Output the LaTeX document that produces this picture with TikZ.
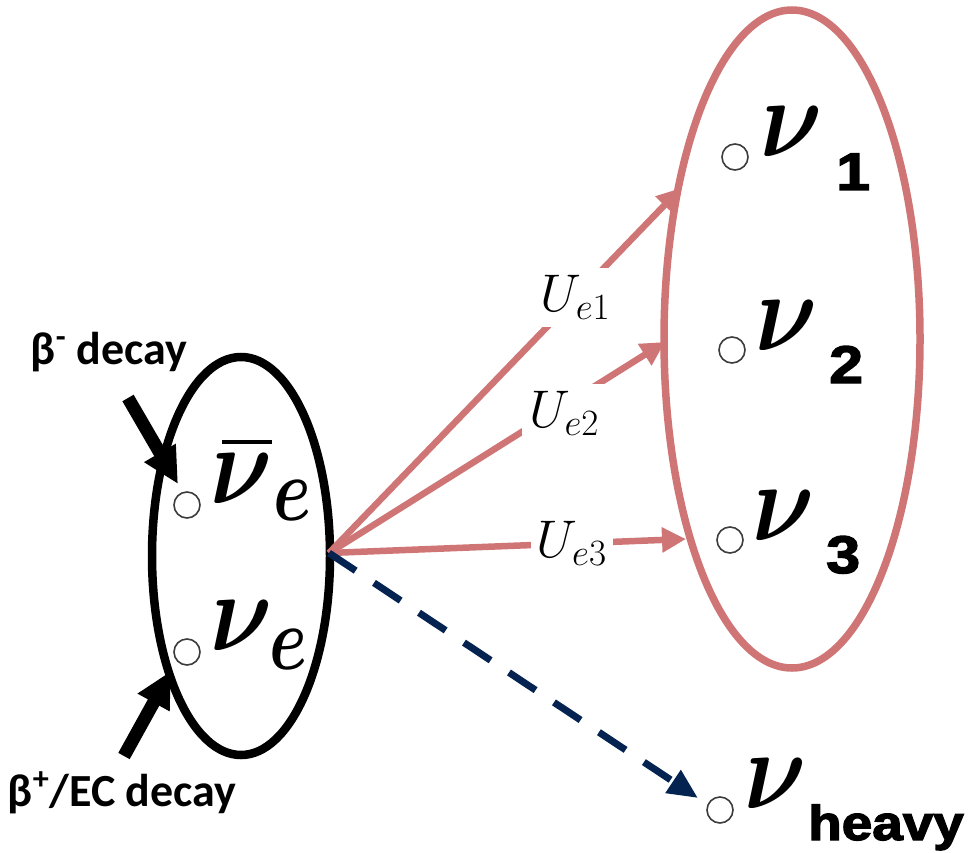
\RequirePackage{fix-cm}
\documentclass[tikz,border=0pt]{standalone}
\usepackage{fontspec}
\usepackage{graphicx}
\usepackage{bm}
\newfontfamily\calib{Carlito}
\newfontfamily\arialblack[FakeBold=2.5]{Liberation Sans Bold}
\usetikzlibrary{arrows.meta}
\definecolor{rosy}{RGB}{208,117,117}
\definecolor{navyd}{RGB}{5,35,80}
\definecolor{dotgray}{RGB}{60,60,60}
\newcommand{\nuglyph}{\scalebox{0.86}[1]{\fontsize{112}{112}\selectfont$\bm{\nu}$}}
\newcommand{\eglyph}{\scalebox{0.76}[1]{\fontsize{90}{90}\selectfont$\bm{e}$}}
\newcommand{\subdigit}[1]{\raisebox{-33pt}{\scalebox{1.15}[1]{\arialblack\fontsize{53}{53}\selectfont #1}}}
\begin{document}
\begin{tikzpicture}[x=1pt,y=-1pt,
  dot/.style={circle,draw=dotgray,line width=1.6pt,minimum size=26pt,inner sep=0pt},
  lab/.style={inner sep=0pt,outer sep=0pt,anchor=base west},
  mix/.style={draw=rosy,line width=6.5pt,-{Triangle[length=24pt,width=24pt]}},
  ulab/.style={fill=white,inner sep=7pt,font=\fontsize{53}{53}\selectfont},
  decaytxt/.style={font=\calib\bfseries\fontsize{46}{46}\selectfont,inner sep=0pt},
  decayarrow/.style={line width=13pt,-{Triangle[length=36pt,width=34pt]}}]
\useasboundingbox (0,0) rectangle (968,853);

% ellipses
\draw[line width=8.5pt] (241,556) ellipse [x radius=89, y radius=199];
\draw[rosy,line width=7.5pt] (792,339) ellipse [x radius=128, y radius=329];

% flavour states
\node[dot] (c1) at (187,505) {};
\node[lab] (nbe) at (210,503) {\nuglyph\llap{\rule[59pt]{50pt}{4pt}}\kern1pt\raisebox{-17pt}{\eglyph}};
\node[dot] (c2) at (187,652) {};
\node[lab] (ne) at (210,650) {\nuglyph\kern-3pt\raisebox{-19pt}{\eglyph}};

% mass states
\node[dot] (m1) at (735,157) {};
\node[lab] (n1) at (760,157) {\nuglyph\kern14pt\subdigit{1}};
\node[dot] (m2) at (732,350) {};
\node[lab] (n2) at (755,350) {\nuglyph\kern12pt\subdigit{2}};
\node[dot] (m3) at (730,540) {};
\node[lab] (n3) at (752,540) {\nuglyph\kern12pt\subdigit{3}};
\node[dot] (mh) at (720,810) {};
\node[lab] (nh) at (744,808) {\nuglyph\kern2pt\raisebox{-32pt}{\scalebox{1.12}[1]{\arialblack\fontsize{49}{49}\selectfont heavy}}};

% decay labels
\node[decaytxt] (bm) at (109,352) {β\textsuperscript{-} decay};
\node[decaytxt] (bp) at (122,793) {β\textsuperscript{+}/EC decay};
\coordinate (bmS) at (128,398);
\coordinate (bmT) at (178,484);
\coordinate (bpS) at (124,756);
\coordinate (bpT) at (171,671);
\draw[decayarrow] (bmS) -- (bmT);
\draw[decayarrow] (bpS) -- (bpT);

% mixing arrows
\coordinate (hub) at (329,553);
\coordinate (t1) at (681,188);
\coordinate (t2) at (665,342);
\coordinate (t3) at (686,539);
\coordinate (th) at (698,798);
\draw[mix] (hub) -- node[ulab,pos=0.7] {$U_{e1}$} (t1);
\draw[mix] (hub) -- node[ulab,pos=0.7,yshift=-8pt] {$U_{e2}$} (t2);
\draw[mix] (hub) -- node[ulab,pos=0.68,inner sep=6pt] {$U_{e3}$} (t3);
\draw[navyd,line width=7pt,dash pattern=on 32pt off 22pt,-{Triangle[length=30pt,width=26pt]}] (hub) -- (th);
\end{tikzpicture}
\end{document}
